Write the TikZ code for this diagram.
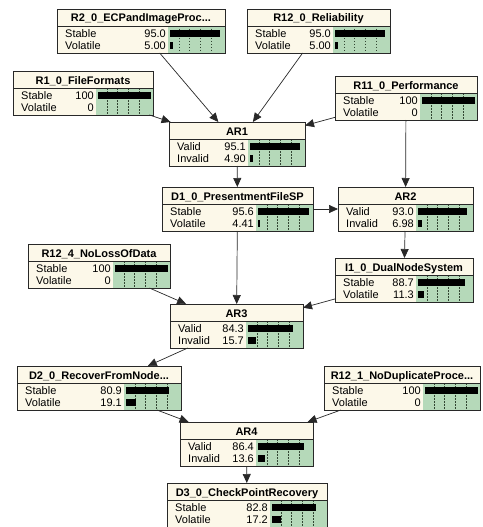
\documentclass[tikz,border=0pt]{standalone}
\usepackage{fontspec}
\setmainfont{Liberation Sans}
\usetikzlibrary{arrows.meta}
\definecolor{bncream}{RGB}{252,248,233}
\definecolor{bngreen}{RGB}{181,217,185}
\definecolor{bnline}{RGB}{40,40,40}
\definecolor{bngrid}{RGB}{50,70,50}
\tikzset{
  bnbox/.style={rectangle, inner sep=0pt, outer sep=0pt, minimum height=44pt},
  bnborder/.style={draw=bnline, line width=0.8pt},
  bntitle/.style={font=\fontsize{11}{13}\selectfont\bfseries, inner sep=0pt, anchor=base},
  bnlabel/.style={font=\fontsize{11}{13}\selectfont, inner sep=0pt, anchor=base west},
  bnvalue/.style={font=\fontsize{11}{13}\selectfont, inner sep=0pt, anchor=base east},
  bngridline/.style={draw=bngrid, line width=0.6pt, dash pattern=on 1.5pt off 1.5pt},
  bnbar/.style={fill=black},
  bnarrow/.style={draw=bnline, line width=0.7pt, -{Triangle[length=9pt,width=8pt]}},
}
\newcommand\bnbox[5]{%
  \def\bnL{#2}\def\bnT{#3}\def\bnW{#4}%
  \pgfmathsetmacro\bnR{#2+#4}%
  \pgfmathsetmacro\bnG{#2+#4-57}%
  \node[bnbox, minimum width=#4pt] (#1) at ({#2+#4/2},{#3+22}) {};
  \fill[bncream] (#2,#3) rectangle (\bnR,{#3+44});
  \fill[bngreen] (\bnG,{#3+17}) rectangle (\bnR,{#3+44});
  \foreach \f in {0.19,0.38,0.57,0.76} \draw[bngridline] ({\bnG+57*\f},{#3+17}) -- ({\bnG+57*\f},{#3+44});
  \draw[bnborder] (#2,{#3+17}) -- (\bnR,{#3+17});
  \draw[bnborder] (#1.north west) rectangle (#1.south east);
  \node[bntitle] at ({#2+#4/2},{#3+13}) {#5};
}
\newcommand\bnrow[4]{%
  \pgfmathsetmacro\bnY{\bnT+24.5+12*#1}%
  \node[bnlabel] at ({\bnL+8},{\bnY+4}) {#2};
  \node[bnvalue] at ({\bnG-2},{\bnY+4}) {#3};
  \ifdim #4pt>0pt \fill[bnbar] ({\bnG+2},{\bnY-3.2}) rectangle ({\bnG+2+0.53*#4},{\bnY+3.2});\fi
}
\begin{document}
\begin{tikzpicture}[x=1pt,y=-1pt]
\useasboundingbox (0,0) rectangle (482,527);
\fill[white] (0,0) rectangle (482,527);
\clip (0,0) rectangle (482,527);

\bnbox{r2}{57}{9}{168}{R2\_0\_ECPandImageProc...}
\bnrow{0}{Stable}{95.0}{95.0}\bnrow{1}{Volatile}{5.00}{5.00}

\bnbox{r120}{247}{9}{143}{R12\_0\_Reliability}
\bnrow{0}{Stable}{95.0}{95.0}\bnrow{1}{Volatile}{5.00}{5.00}

\bnbox{r1}{13}{71}{140}{R1\_0\_FileFormats}
\bnrow{0}{Stable}{100}{100}\bnrow{1}{Volatile}{0}{0}

\bnbox{r11}{335}{76}{142}{R11\_0\_Performance}
\bnrow{0}{Stable}{100}{100}\bnrow{1}{Volatile}{0}{0}

\bnbox{ar1}{169}{122}{136}{AR1}
\bnrow{0}{Valid}{95.1}{95.1}\bnrow{1}{Invalid}{4.90}{4.90}

\bnbox{d1}{162}{187}{151}{D1\_0\_PresentmentFileSP}
\bnrow{0}{Stable}{95.6}{95.6}\bnrow{1}{Volatile}{4.41}{4.41}

\bnbox{ar2}{338}{187}{135}{AR2}
\bnrow{0}{Valid}{93.0}{93.0}\bnrow{1}{Invalid}{6.98}{6.98}

\bnbox{r124}{28}{244}{142}{R12\_4\_NoLossOfData}
\bnrow{0}{Stable}{100}{100}\bnrow{1}{Volatile}{0}{0}

\bnbox{i1}{335}{258}{138}{I1\_0\_DualNodeSystem}
\bnrow{0}{Stable}{88.7}{88.7}\bnrow{1}{Volatile}{11.3}{11.3}

\bnbox{ar3}{170}{304}{133}{AR3}
\bnrow{0}{Valid}{84.3}{84.3}\bnrow{1}{Invalid}{15.7}{15.7}

\bnbox{d2}{17}{366}{164}{D2\_0\_RecoverFromNode...}
\bnrow{0}{Stable}{80.9}{80.9}\bnrow{1}{Volatile}{19.1}{19.1}

\bnbox{r121}{324}{366}{156}{R12\_1\_NoDuplicateProce...}
\bnrow{0}{Stable}{100}{100}\bnrow{1}{Volatile}{0}{0}

\bnbox{ar4}{180}{422}{133}{AR4}
\bnrow{0}{Valid}{86.4}{86.4}\bnrow{1}{Invalid}{13.6}{13.6}

\bnbox{d3}{167}{483}{160}{D3\_0\_CheckPointRecovery}
\bnrow{0}{Stable}{82.8}{82.8}\bnrow{1}{Volatile}{17.2}{17.2}

\draw[bnarrow] (r2) -- (ar1);
\draw[bnarrow] (r120) -- (ar1);
\draw[bnarrow] (r1) -- (ar1);
\draw[bnarrow] (r11) -- (ar1);
\draw[bnarrow] (r11) -- (ar2);
\draw[bnarrow] (ar1) -- (d1);
\draw[bnarrow] (d1) -- (ar2);
\draw[bnarrow] (ar2) -- (i1);
\draw[bnarrow] (d1) -- (ar3);
\draw[bnarrow] (r124) -- (ar3);
\draw[bnarrow] (i1) -- (ar3);
\draw[bnarrow] (ar3) -- (d2);
\draw[bnarrow] (d2) -- (ar4);
\draw[bnarrow] (r121) -- (ar4);
\draw[bnarrow] (ar4) -- (d3);
\end{tikzpicture}
\end{document}
